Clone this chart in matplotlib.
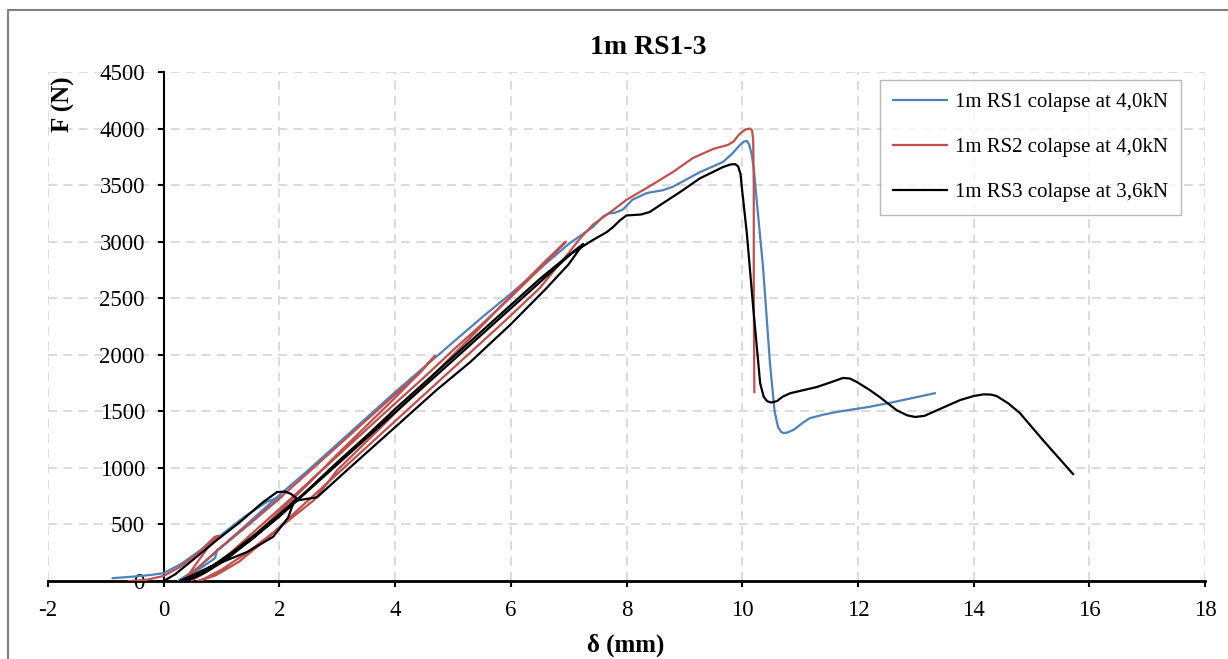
import matplotlib
matplotlib.use("Agg")
import matplotlib.pyplot as plt
from matplotlib.patches import Rectangle

plt.rcParams['font.family'] = ['Liberation Serif', 'DejaVu Serif']

title = "1m RS1-3"
xlabel = "δ (mm)"
ylabel = "F (N)"
labels = ["1m RS1 colapse at 4,0kN", "1m RS2 colapse at 4,0kN", "1m RS3 colapse at 3,6kN"]
colors = ["#4F81BD", "#C0504D", "#000000"]
xticks = [-2, 0, 2, 4, 6, 8, 10, 12, 14, 16, 18]
yticks = [0, 500, 1000, 1500, 2000, 2500, 3000, 3500, 4000, 4500]

# RS1 (blue)
rs1_x = [-0.88, -0.5, -0.2, 0.0, 0.3, 0.6, 1.0, 1.4, 1.8, 2.05,
         1.5, 1.0, 0.92, 0.89, 0.6, 0.3, 0.25,
         0.6, 1.0, 1.5, 2.0, 2.5, 3.0, 3.5, 4.0, 4.5, 5.0, 5.5, 6.0, 6.5, 7.0,
         7.42, 7.6, 7.7, 7.8, 7.94, 8.1, 8.35, 8.63, 8.8, 9.27, 9.67, 9.85, 9.96, 10.03, 10.08,
         10.12, 10.16, 10.2, 10.25, 10.36, 10.48, 10.56, 10.62, 10.67, 10.71, 10.78, 10.9,
         11.05, 11.17, 11.4, 11.64, 12.2, 12.6, 13.33]
rs1_y = [25, 40, 55, 70, 150, 260, 410, 570, 705, 750,
         510, 300, 274, 203, 100, 15, 0,
         120, 300, 530, 760, 980, 1210, 1440, 1670, 1890, 2110, 2330, 2540, 2760, 2980,
         3130, 3225, 3250, 3255, 3285, 3370, 3430, 3455, 3485, 3615, 3705, 3790, 3855, 3885, 3890,
         3860, 3780, 3650, 3370, 2775, 1925, 1500, 1360, 1320, 1308, 1312, 1340,
         1400, 1440, 1470, 1495, 1540, 1580, 1660]

# RS2 (red)
rs2_x = [-0.6, -0.3, 0.0, 0.3, 0.6, 0.88, 0.95,
         0.8, 0.6, 0.45, 0.35,
         0.6, 0.9, 1.2, 1.6, 2.0, 2.5, 3.0, 3.5, 4.0, 4.4, 4.69,
         4.5, 4.0, 3.5, 3.0, 2.5, 2.0, 1.5, 1.0, 0.6, 0.45,
         0.8, 1.2, 1.7, 2.2, 2.8, 3.4, 4.0, 4.5, 5.0, 5.5, 6.0, 6.5, 6.95,
         6.6, 6.0, 5.26, 4.5, 3.7, 3.0, 2.6, 2.0, 1.44, 1.0, 0.7, 0.6,
         0.9, 1.3, 1.8, 2.3, 2.9, 3.5, 4.1, 4.7, 5.3, 5.9, 6.5, 7.0, 7.2,
         7.42, 7.77, 8.0, 8.35, 8.8, 9.15, 9.5, 9.75, 9.85, 9.95, 10.05, 10.13, 10.17,
         10.19, 10.2, 10.2, 10.21]
rs2_y = [0, 10, 45, 130, 250, 390, 400,
         320, 180, 70, 0,
         120, 260, 390, 560, 730, 960, 1190, 1420, 1650, 1830, 1990,
         1880, 1620, 1370, 1120, 860, 610, 370, 160, 40, 0,
         100, 270, 500, 730, 1010, 1290, 1570, 1800, 2040, 2270, 2510, 2760, 3000,
         2830, 2520, 2130, 1740, 1330, 980, 716, 470, 250, 100, 20, 0,
         50, 170, 380, 620, 900, 1180, 1460, 1740, 2020, 2300, 2590, 2900, 3030,
         3150, 3280, 3370, 3475, 3615, 3740, 3820, 3855, 3885, 3950, 3990, 4000, 3985,
         3900, 3500, 2500, 1670]

# RS3 (black)
rs3_x = [0.0, 0.2, 0.5, 0.92, 1.32, 1.7, 1.96, 2.1, 2.2, 2.3,
         2.2, 2.0, 1.6, 1.2, 0.8, 0.5, 0.3,
         0.28, 0.8, 1.44, 1.89, 2.15, 2.25, 2.35, 2.65, 3.3, 4.0, 4.72, 5.3, 6.0, 6.6, 7.0, 7.25,
         7.1, 6.5, 6.0, 5.0, 4.0, 3.0, 2.5, 2.0, 1.5, 1.0, 0.6, 0.4,
         0.7, 1.1, 1.5, 2.0, 2.5, 3.0, 3.5, 4.0, 4.5, 5.0, 5.5, 6.0, 6.5, 7.0,
         7.42, 7.66, 7.77, 7.89, 8.0, 8.1, 8.25, 8.4, 8.63, 8.93, 9.27, 9.67, 9.8, 9.88,
         9.93, 9.97, 10.0, 10.08, 10.19, 10.31, 10.37, 10.43, 10.5, 10.6, 10.7, 10.83,
         11.29, 11.55, 11.74, 11.86, 11.98, 12.2, 12.38, 12.67, 12.85, 12.99, 13.15, 13.37,
         13.77, 14.0, 14.17, 14.3, 14.4, 14.6, 14.8, 15.2, 15.72]
rs3_y = [0, 60, 185, 362, 522, 690, 787, 790, 770, 730,
         680, 590, 420, 260, 120, 40, 0,
         0, 124, 256, 390, 560, 700, 716, 740, 1040, 1360, 1690, 1936, 2270, 2580, 2800, 2980,
         2920, 2640, 2410, 1950, 1490, 1030, 800, 570, 360, 180, 60, 0,
         70, 200, 360, 580, 810, 1050, 1280, 1520, 1750, 1980, 2210, 2440, 2670, 2880,
         3015, 3085, 3130, 3190, 3232, 3235, 3240, 3262, 3340, 3440, 3560, 3660, 3683, 3685,
         3665, 3600, 3450, 3075, 2420, 1750, 1630, 1590, 1578, 1590, 1630, 1660,
         1715, 1760, 1795, 1790, 1760, 1690, 1625, 1510, 1465, 1450, 1460, 1510,
         1600, 1635, 1650, 1648, 1635, 1570, 1485, 1245, 945]

W, H = 1228, 659
fig = plt.figure(figsize=(W / 100, H / 100), dpi=100)
ax = fig.add_axes([48 / W, 1 - 581 / H, (1205 - 48) / W, (581 - 72) / H])

ax.plot(rs1_x, rs1_y, color=colors[0], lw=1.6, label=labels[0], zorder=3)
ax.plot(rs2_x, rs2_y, color=colors[1], lw=1.6, label=labels[1], zorder=3)
ax.plot(rs3_x, rs3_y, color=colors[2], lw=1.6, label=labels[2], zorder=3)

ax.set_xlim(-2, 18)
ax.set_ylim(0, 4500)
ax.set_xticks(xticks)
ax.set_yticks(yticks)
ax.set_xticklabels([str(v) for v in xticks])
ax.set_yticklabels([str(v) for v in yticks])
ax.grid(True, color="#D9D9D9", linestyle=(0, (5, 3.5)), linewidth=1.3, zorder=0)
ax.set_axisbelow(True)

for s in ["top", "right"]:
    ax.spines[s].set_visible(False)
ax.spines["left"].set_position(("data", 0))
ax.spines["left"].set_linewidth(1.5)
ax.spines["bottom"].set_linewidth(2.0)
ax.tick_params(axis="both", direction="out", length=4.5, width=1.5, labelsize=16.5)
ax.tick_params(axis="x", pad=9)
ax.tick_params(axis="y", pad=9)

fig.text(648 / W, 1 - 47 / H, title, ha="center", va="center", fontsize=20, fontweight="bold")
fig.text(626 / W, 1 - 645 / H, xlabel, ha="center", va="center", fontsize=18, fontweight="bold")
fig.text(63 / W, 1 - 104 / H, ylabel, ha="center", va="center", fontsize=18, fontweight="bold", rotation=90)

leg = ax.legend(loc="upper right", bbox_to_anchor=(1181 / W, 1 - 80 / H),
                bbox_transform=fig.transFigure, fontsize=15, frameon=True,
                fancybox=False, edgecolor="#A6A6A6", handlelength=2.6,
                labelspacing=1.22, borderpad=0.6, handletextpad=0.4, borderaxespad=0)
leg.get_frame().set_linewidth(1.0)

fig.patches.append(Rectangle((8 / W, -0.1), 1.1, 1.1 - 10 / H, transform=fig.transFigure,
                             fill=False, edgecolor="#7F7F7F", linewidth=1.5))

fig.savefig("out.png", dpi=100)
